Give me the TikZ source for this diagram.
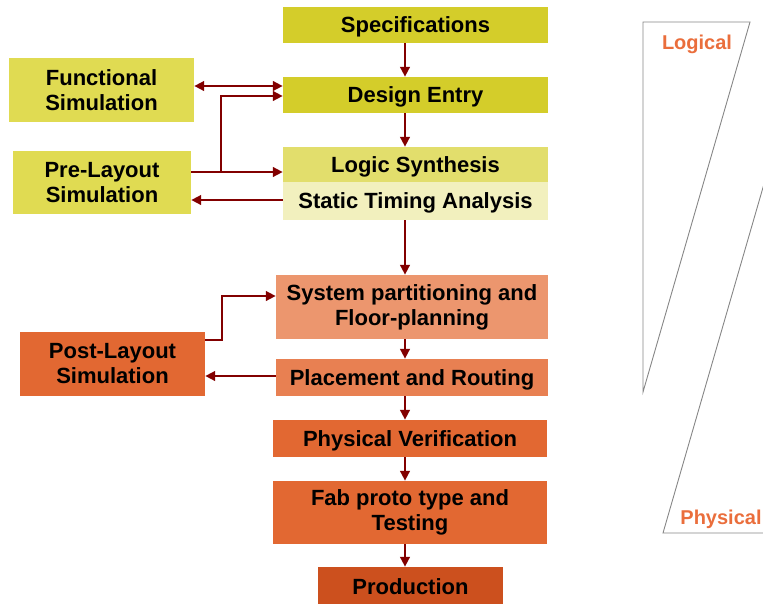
\documentclass[tikz,border=0pt]{standalone}
\usepackage{fontspec}
\setmainfont{Liberation Sans}
\usetikzlibrary{arrows.meta}
\definecolor{yelA}{RGB}{212,205,42}
\definecolor{yelB}{RGB}{224,219,82}
\definecolor{yelC}{RGB}{226,222,108}
\definecolor{yelD}{RGB}{242,240,190}
\definecolor{orA}{RGB}{236,150,110}
\definecolor{orB}{RGB}{232,128,82}
\definecolor{orC}{RGB}{226,104,50}
\definecolor{orD}{RGB}{204,80,30}
\definecolor{arrc}{RGB}{130,0,0}
\definecolor{labc}{RGB}{234,110,60}
\tikzset{
  box/.style={draw=none, inner sep=0pt, align=center,
    font=\fontsize{22}{25}\selectfont\bfseries},
  oneline/.style={text height=15.75pt, text depth=0pt},
  arr/.style={draw=arrc, line width=2.8pt, -{Triangle[length=10pt,width=9.5pt]}},
  arrtwo/.style={draw=arrc, line width=2.8pt,
    {Triangle[length=10pt,width=9.5pt]}-{Triangle[length=10pt,width=9.5pt]}},
  side/.style={draw=gray!95, line width=0.9pt},
  sidelab/.style={text=labc, inner sep=0pt, text height=14.3pt, text depth=0pt,
    font=\fontsize{20}{24}\selectfont\bfseries}
}
\begin{document}
\begin{tikzpicture}[x=1pt,y=-1pt]
\useasboundingbox (0,0) rectangle (763,603);
\clip (0,0) rectangle (763,603);

% main flow
\node[box, oneline, fill=yelA, minimum width=265pt, minimum height=36pt] (spec) at (415.5,25) {Specifications};
\node[box, oneline, fill=yelA, minimum width=265pt, minimum height=36pt] (design) at (415.5,95) {Design Entry};
\node[box, oneline, fill=yelC, minimum width=265pt, minimum height=35pt] (logic) at (415.5,164.5) {Logic Synthesis};
\node[box, oneline, fill=yelD, minimum width=265pt, minimum height=38pt] (sta) at (415.5,201) {Static Timing Analysis};
\node[box, fill=orA, minimum width=272pt, minimum height=64pt] (sys) at (412,307) {System partitioning and\\Floor-planning};
\node[box, oneline, fill=orB, minimum width=272pt, minimum height=37pt] (place) at (412,377.5) {Placement and Routing};
\node[box, oneline, fill=orC, minimum width=274pt, minimum height=37pt] (phys) at (410,438.5) {Physical Verification};
\node[box, fill=orC, minimum width=274pt, minimum height=63pt] (fab) at (410,512.5) {Fab proto type and\\Testing};
\node[box, oneline, fill=orD, minimum width=185pt, minimum height=40pt] (prod) at (410.5,587) {Production};

% simulation boxes
\node[box, fill=yelB, minimum width=185pt, minimum height=64pt] (func) at (101.5,90) {Functional\\Simulation};
\node[box, fill=yelB, minimum width=178pt, minimum height=63pt] (pre) at (102,182.5) {Pre-Layout\\Simulation};
\node[box, fill=orC, minimum width=185pt, minimum height=64pt] (post) at (112.5,364) {Post-Layout\\Simulation};

% vertical flow arrows
\coordinate (vx) at (405,0);
\draw[arr] (spec.south -| vx) -- (design.north -| vx);
\draw[arr] (design.south -| vx) -- (logic.north -| vx);
\draw[arr] (sta.south -| vx) -- (sys.north -| vx);
\draw[arr] (sys.south -| vx) -- (place.north -| vx);
\draw[arr] (place.south -| vx) -- (phys.north -| vx);
\draw[arr] (phys.south -| vx) -- (fab.north -| vx);
\draw[arr] (fab.south -| vx) -- (prod.north -| vx);

% simulation links
\draw[arrtwo] (func.east |- 0,86) -- (design.west |- 0,86);
\coordinate (br) at (221,172);
\draw[arr] (pre.east |- br) -- (logic.west |- br);
\draw[arr] (br) -- (221,96) -- (design.west |- 0,96);
\draw[arr] (sta.west |- 0,200) -- (pre.east |- 0,200);
\coordinate (pb) at (222,340);
\draw[arr] (post.east |- pb) -- (pb) |- (sys.west |- 0,296);
\draw[arr] (place.west |- 0,376) -- (post.east |- 0,376);

% logical / physical side shapes
\draw[side] (643,22) -- (750,22) -- (643,392) -- cycle;
\draw[side] (769.5,165) -- (663,533) -- (770,533);
\node[sidelab] (logical) at (697,42) {Logical};
\node[sidelab] (physical) at (721,517) {Physical};
\end{tikzpicture}
\end{document}
